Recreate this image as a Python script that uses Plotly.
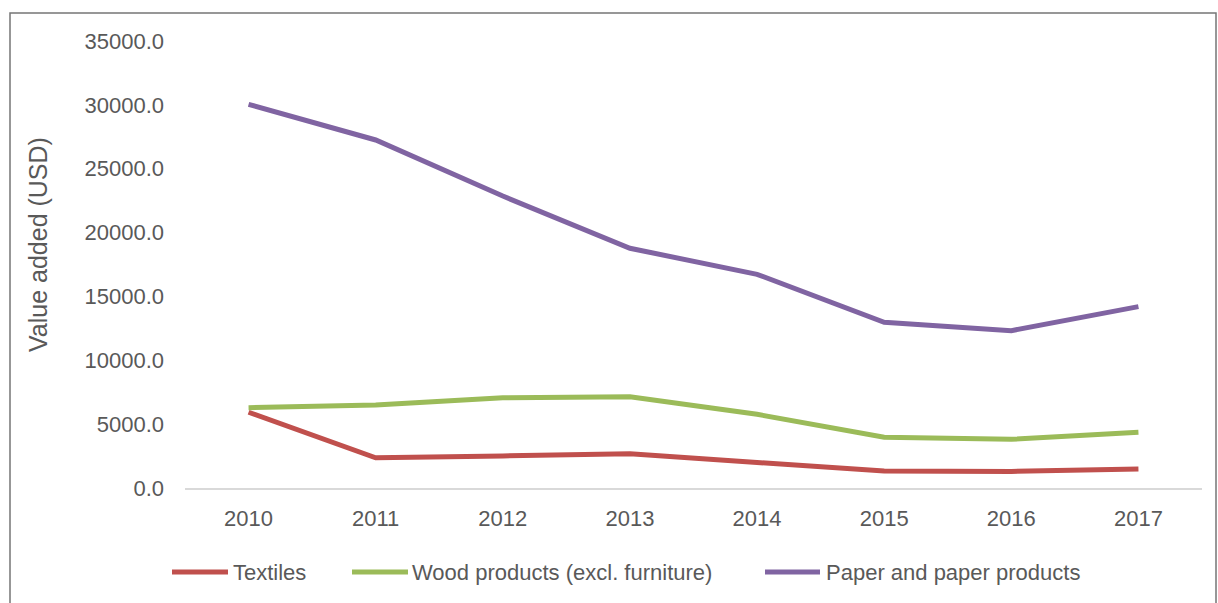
import plotly.graph_objects as go

# Value added by industry, 2010-2017 (USD)
years = ["2010", "2011", "2012", "2013", "2014", "2015", "2016", "2017"]
textiles = [5930, 2370, 2510, 2690, 2000, 1330, 1300, 1490]
wood = [6290, 6500, 7070, 7150, 5770, 3970, 3810, 4360]
paper = [30040, 27250, 22860, 18770, 16730, 12970, 12320, 14200]

series_names = ["Textiles", "Wood products (excl. furniture)", "Paper and paper products"]
series_values = [textiles, wood, paper]
series_colors = ["#C0504D", "#9BBB59", "#8064A2"]

W, H = 1218, 603
ML, MR, MT, MB = 185, 16, 41, 115
plot_w = W - ML - MR
plot_h = H - MT - MB


def px_to_paper_x(px):
    return (px - ML) / plot_w


def px_to_paper_y(py):
    return (H - MB - py) / plot_h


FONT = "Liberation Sans, Arial, sans-serif"
TXT = "#595959"
FS = 22

fig = go.Figure()
for name, vals, col in zip(series_names, series_values, series_colors):
    fig.add_trace(go.Scatter(
        x=years, y=vals, name=name, mode="lines",
        line=dict(color=col, width=5), showlegend=False,
    ))

shapes = []
annotations = []

# Legend drawn beneath the plot: a short line sample followed by the name
legend_y = px_to_paper_y(572)
legend_items = [(172, 228, 231), (352, 408, 410), (765, 820, 824)]
for (x0, x1, xt), name, col in zip(legend_items, series_names, series_colors):
    shapes.append(dict(
        type="line", xref="paper", yref="paper",
        x0=px_to_paper_x(x0), x1=px_to_paper_x(x1), y0=legend_y, y1=legend_y,
        line=dict(color=col, width=5),
    ))
    annotations.append(dict(
        xref="paper", yref="paper", x=px_to_paper_x(xt), y=legend_y,
        xanchor="left", yanchor="middle", showarrow=False, text=name,
        font=dict(family=FONT, size=FS, color=TXT),
    ))

# Outer chart border
shapes.append(dict(
    type="rect", xref="paper", yref="paper", layer="below",
    x0=px_to_paper_x(10), x1=px_to_paper_x(1216),
    y0=px_to_paper_y(640), y1=px_to_paper_y(13),
    line=dict(color="#767676", width=1.5), fillcolor="rgba(0,0,0,0)",
))

# Y-axis title
annotations.append(dict(
    xref="paper", yref="paper", x=px_to_paper_x(38), y=px_to_paper_y(245),
    xanchor="center", yanchor="middle", showarrow=False, textangle=-90,
    text="Value added (USD)", font=dict(family=FONT, size=25, color=TXT),
))

fig.update_layout(
    width=W, height=H,
    margin=dict(l=ML, r=MR, t=MT, b=MB),
    paper_bgcolor="white", plot_bgcolor="white",
    font=dict(family=FONT, size=FS, color=TXT),
    shapes=shapes, annotations=annotations,
    showlegend=False,
)
fig.update_xaxes(
    type="category", range=[-0.5, 7.5],
    showgrid=False, zeroline=False,
    showline=True, linecolor="#D9D9D9", linewidth=2,
    ticks="", ticklabelstandoff=10,
    tickfont=dict(family=FONT, size=FS, color=TXT),
)
fig.update_yaxes(
    range=[0, 35000], dtick=5000, tickformat=".1f",
    showgrid=False, zeroline=False, showline=False,
    ticks="", ticklabelstandoff=20,
    tickfont=dict(family=FONT, size=FS, color=TXT),
)

fig.write_html("out.html")
